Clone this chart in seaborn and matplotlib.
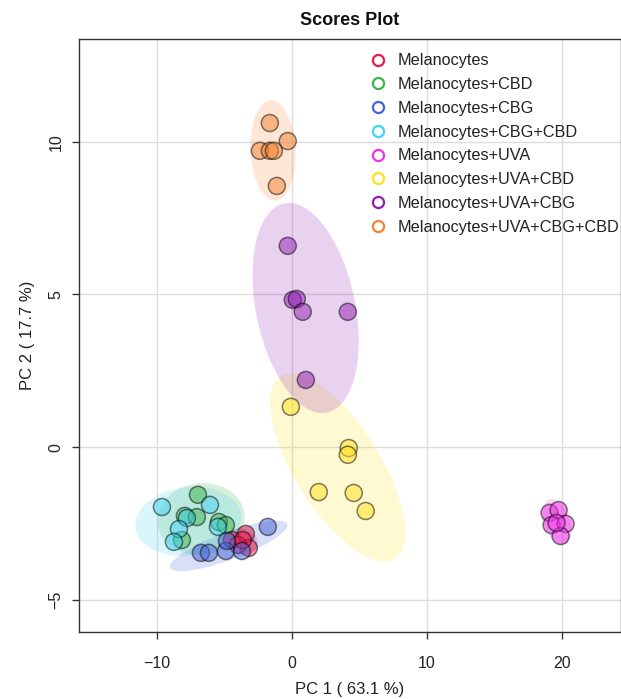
import matplotlib
matplotlib.use("Agg")
import matplotlib.pyplot as plt
from matplotlib.lines import Line2D
from matplotlib.patches import Ellipse
import numpy as np
import pandas as pd
import seaborn as sns

# ----- data
groups = ["Melanocytes", "Melanocytes+CBD", "Melanocytes+CBG", "Melanocytes+CBG+CBD",
          "Melanocytes+UVA", "Melanocytes+UVA+CBD", "Melanocytes+UVA+CBG",
          "Melanocytes+UVA+CBG+CBD"]
colors = ["#E6194B", "#3CB44B", "#4363D8", "#42D4F4",
          "#F032E6", "#FFE119", "#911EB4", "#F58231"]

pc1_mel = [-4.44, -3.41, -3.19, -4.00, -3.63]
pc2_mel = [-3.04, -2.84, -3.30, -3.20, -3.04]
pc1_cbd = [-6.96, -7.93, -7.04, -5.41, -4.89, -8.15]
pc2_cbd = [-1.56, -2.25, -2.29, -2.45, -2.55, -3.04]
pc1_cbg = [-1.78, -6.74, -6.15, -4.89, -4.81, -3.70]
pc2_cbg = [-2.61, -3.46, -3.46, -3.40, -3.07, -3.40]
pc1_cbgcbd = [-9.63, -6.07, -7.78, -8.37, -8.74, -5.48]
pc2_cbgcbd = [-1.96, -1.89, -2.32, -2.68, -3.10, -2.61]
pc1_uva = [19.11, 19.78, 19.26, 20.30, 19.93, 19.63]
pc2_uva = [-2.15, -2.06, -2.55, -2.51, -2.91, -2.48]
pc1_uvacbd = [-0.07, 4.22, 4.15, 2.00, 4.59, 5.48]
pc2_uvacbd = [1.32, -0.03, -0.25, -1.47, -1.50, -2.09]
pc1_uvacbg = [-0.30, 0.07, 0.37, 0.81, 4.15, 1.04]
pc2_uvacbg = [6.59, 4.82, 4.85, 4.43, 4.43, 2.20]
pc1_all = [-1.63, -0.30, -2.37, -1.63, -1.33, -1.11]
pc2_all = [10.61, 10.02, 9.70, 9.70, 9.70, 8.55]

pc1_list = [pc1_mel, pc1_cbd, pc1_cbg, pc1_cbgcbd, pc1_uva, pc1_uvacbd, pc1_uvacbg, pc1_all]
pc2_list = [pc2_mel, pc2_cbd, pc2_cbg, pc2_cbgcbd, pc2_uva, pc2_uvacbd, pc2_uvacbg, pc2_all]

rows = []
for g, xs, ys in zip(groups, pc1_list, pc2_list):
    for a, b in zip(xs, ys):
        rows.append((g, a, b))
df = pd.DataFrame(rows, columns=["group", "PC1", "PC2"])


def conf_ellipse(x, y, color, ax, level_k=2.4477):
    # 95% confidence ellipse from the sample covariance
    cov = np.cov(x, y)
    vals, vecs = np.linalg.eigh(cov)
    order = vals.argsort()[::-1]
    vals, vecs = vals[order], vecs[:, order]
    angle = np.degrees(np.arctan2(vecs[1, 0], vecs[0, 0]))
    w, h = 2 * level_k * np.sqrt(vals)
    e = Ellipse((np.mean(x), np.mean(y)), w, h, angle=angle,
                facecolor=color, edgecolor="none", alpha=0.2, zorder=1)
    ax.add_patch(e)


# ----- plot
sns.set_theme(style="whitegrid")
plt.rcParams["font.family"] = ["Liberation Sans", "DejaVu Sans"]

fig = plt.figure(figsize=(6.21, 6.99), dpi=100)
ax = fig.add_axes([0.1272, 0.0959, 0.872, 0.8483])

for g, c, xs, ys in zip(groups, colors, pc1_list, pc2_list):
    conf_ellipse(np.array(xs), np.array(ys), c, ax)

sns.scatterplot(data=df, x="PC1", y="PC2", hue="group", palette=colors,
                hue_order=groups, s=150, alpha=0.5, edgecolor="black",
                linewidth=1.1, legend=False, ax=ax, zorder=3)
# black outlines fully opaque
for coll in ax.collections:
    coll.set_edgecolor((0, 0, 0, 0.9))

ax.set_xlim(-15.78, 24.37)
ax.set_ylim(-6.05, 13.36)
ax.set_xticks([-10, 0, 10, 20])
ax.set_yticks([-5, 0, 5, 10])
ax.grid(True, color="#dddddd", linewidth=1.0)
ax.set_facecolor("white")
for side in ["left", "bottom", "top", "right"]:
    ax.spines[side].set_color("#333333")
    ax.spines[side].set_linewidth(1.0)
ax.tick_params(axis="both", which="both", direction="out", length=5, width=1,
               color="#333333", labelcolor="#222222", labelsize=11.5,
               bottom=True, left=True)
ax.tick_params(axis="x", pad=12)
ax.tick_params(axis="y", pad=6)
for lab in ax.get_yticklabels():
    lab.set_rotation(90)
    lab.set_va("center")

ax.set_xlabel("PC 1 ( 63.1 %)", fontsize=12, labelpad=8, color="#222222")
ax.set_ylabel("PC 2 ( 17.7 %)", fontsize=12, labelpad=10, color="#222222")
ax.set_title("Scores Plot", fontsize=13, fontweight="bold", pad=10, color="#111111")

handles = [Line2D([0], [0], marker="o", linestyle="none", markerfacecolor="none",
                  markeredgecolor=c, markeredgewidth=1.6, markersize=8)
           for c in colors]
ax.legend(handles, groups, loc="upper left", bbox_to_anchor=(0.525, 0.987),
          frameon=False, fontsize=11.7, handletextpad=0.7, labelspacing=0.54,
          handlelength=1.0, borderaxespad=0, labelcolor="#222222")

fig.savefig("out.png", dpi=100)
